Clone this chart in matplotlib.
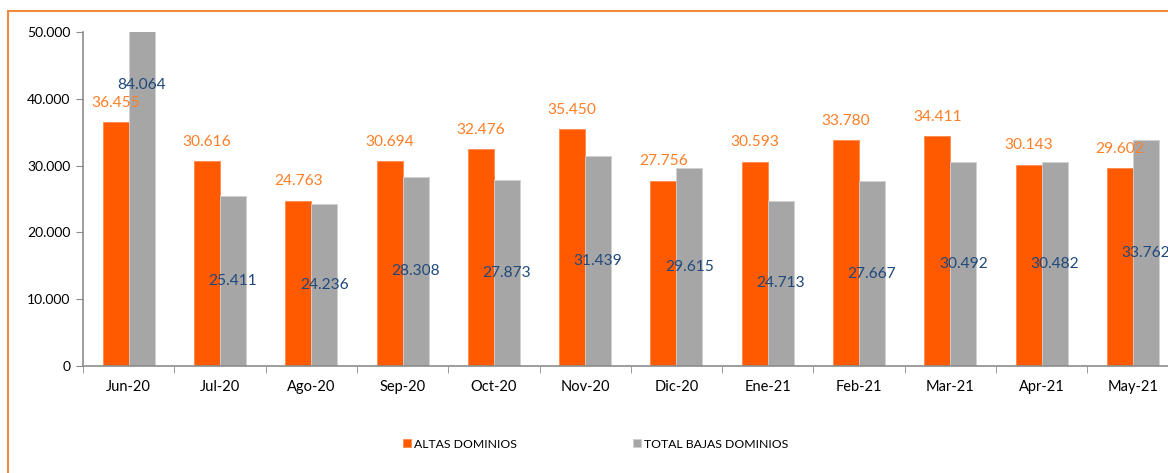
import matplotlib
matplotlib.use("Agg")
import matplotlib.pyplot as plt
from matplotlib.patches import Rectangle
from matplotlib.ticker import FuncFormatter
import numpy as np

plt.rcParams['font.family'] = ['Lato', 'DejaVu Sans']

categories = ["Jun-20", "Jul-20", "Ago-20", "Sep-20", "Oct-20", "Nov-20",
              "Dic-20", "Ene-21", "Feb-21", "Mar-21", "Apr-21", "May-21"]
altas = [36455, 30616, 24763, 30694, 32476, 35450, 27756, 30593, 33780, 34411, 30143, 29602]
bajas = [84064, 25411, 24236, 28308, 27873, 31439, 29615, 24713, 27667, 30492, 30482, 33762]
series_names = ["ALTAS DOMINIOS", "TOTAL BAJAS DOMINIOS"]

ORANGE = "#FF5A00"
GRAY = "#A6A6A6"
ORANGE_TXT = "#FF7F27"
BLUE_TXT = "#1F497D"

W, H = 1168, 473
fig = plt.figure(figsize=(W / 100, H / 100), dpi=100)
ax = fig.add_axes([83 / W, (H - 366) / H, 12 * 91.3 / W, 334 / H])

x = np.arange(len(categories))
bw = 0.285
b1 = ax.bar(x - bw / 2, altas, bw, color=ORANGE, edgecolor="#FF8A4A", linewidth=0.6, label=series_names[0])
b2 = ax.bar(x + bw / 2, bajas, bw, color=GRAY, edgecolor="#D0D0D0", linewidth=0.6, label=series_names[1])

fmt = lambda v: f"{v:,.0f}".replace(",", ".")
for xi, v in zip(x, altas):
    ax.annotate(fmt(v), (xi - bw / 2, v), xytext=(0, 14), textcoords="offset points",
                ha="center", va="center", color=ORANGE_TXT, fontsize=11.2, clip_on=False)
for xi, v in zip(x, bajas):
    ax.text(xi + bw / 2, v / 2, fmt(v), ha="center", va="center", color=BLUE_TXT,
            fontsize=11.2, clip_on=False)

ax.set_ylim(0, 50000)
ax.set_xlim(-0.5, len(categories) - 0.5)
ax.set_yticks(np.arange(0, 50001, 10000))
ax.yaxis.set_major_formatter(FuncFormatter(lambda v, p: fmt(v)))
ax.set_xticks(x)
ax.set_xticklabels(categories)
ax.set_xticks(np.arange(-0.5, len(categories), 1), minor=True)
ax.tick_params(axis="x", which="major", length=0, pad=10, labelsize=10.5)
ax.tick_params(axis="x", which="minor", length=5, color="#8C8C8C", direction="out")
ax.tick_params(axis="y", length=5, color="#8C8C8C", labelsize=10, pad=4)
for s in ["top", "right"]:
    ax.spines[s].set_visible(False)
for s in ["left", "bottom"]:
    ax.spines[s].set_color("#8C8C8C")
    ax.spines[s].set_linewidth(1.2)

# legend
leg = fig.legend(handles=[b1, b2], labels=series_names, loc="center", bbox_to_anchor=(596 / W, 1 - 444 / H),
                 ncol=2, frameon=False, fontsize=8.8, handlelength=0.65, handleheight=0.65,
                 columnspacing=9.5, handletextpad=0.25)

# orange border
fig.patches.append(Rectangle((8 / W, -0.1), 1.2, 1.1 - 11 / H, transform=fig.transFigure,
                             fill=False, edgecolor="#F08A3C", linewidth=1.5))

fig.savefig("out.png", dpi=100)
